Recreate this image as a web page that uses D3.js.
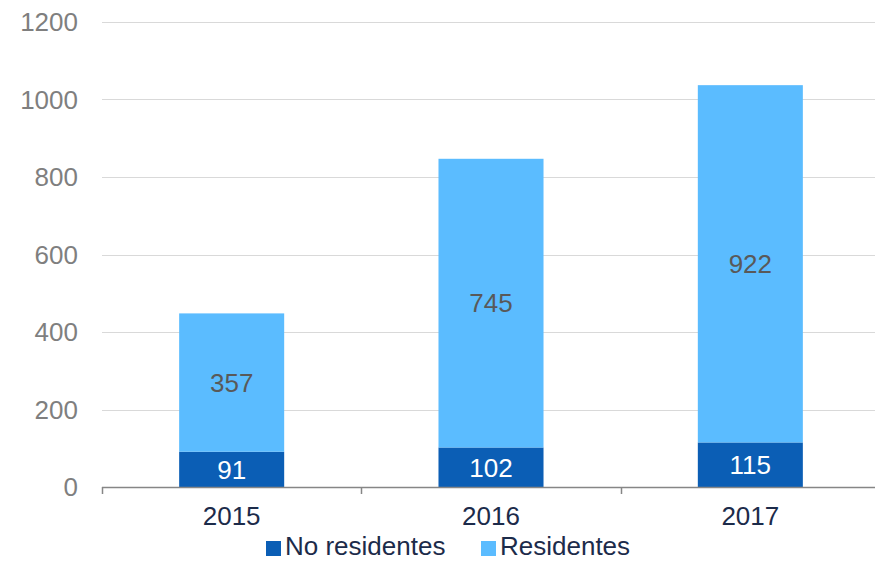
<!DOCTYPE html>
<html><head><meta charset="utf-8">
<script src="https://cdn.jsdelivr.net/npm/d3@7"></script>
<style>body{margin:0;background:#fff}svg{display:block}text{font-family:"Liberation Sans",Arial,sans-serif}</style>
</head><body><svg id="c" width="875" height="561"></svg>
<script>
const years = ["2015","2016","2017"];
const noResidentes = [91,102,115];
const residentes = [357,745,922];
const yTicks = [0,200,400,600,800,1000,1200];
const seriesNames = ["No residentes","Residentes"];
const colors = ["#0b5eb5","#5bbcff"];

(function(){
const svg = d3.select("#c");
const mLeft = 102, mRight = 880, mTop = 22, mBottom = 487;
const x = d3.scaleBand().domain(years).range([mLeft,mRight]).paddingInner(0.595).paddingOuter(0.2975);
const y = d3.scaleLinear().domain([0,1200]).range([mBottom,mTop]);

svg.append("g").selectAll("line").data(yTicks.filter(d=>d>0)).join("line")
  .attr("x1",mLeft).attr("x2",mRight).attr("y1",d=>Math.round(y(d))+0.5).attr("y2",d=>Math.round(y(d))+0.5)
  .attr("stroke","#d9d9d9").attr("stroke-width",1);

svg.append("g").selectAll("text").data(yTicks).join("text")
  .attr("x",78).attr("y",d=>y(d)).attr("dy","0.36em").attr("text-anchor","end")
  .attr("font-size",26).attr("fill","#7f7f7f").text(d=>d);

const data = years.map((yr,i)=>({yr, a:noResidentes[i], b:residentes[i]}));
const stack = d3.stack().keys(["a","b"])(data);

const bw = x.bandwidth();
svg.append("g").selectAll("g").data(stack).join("g").attr("fill",(d,i)=>colors[i])
  .selectAll("rect").data(d=>d).join("rect")
  .attr("x",d=>x(d.data.yr)).attr("width",bw)
  .attr("y",d=>y(d[1])).attr("height",d=>y(d[0])-y(d[1]));

stack.forEach((s,si)=>{
  svg.append("g").selectAll("text").data(s).join("text")
    .attr("x",d=>x(d.data.yr)+bw/2).attr("y",d=>y((d[0]+d[1])/2)).attr("dy","0.36em")
    .attr("text-anchor","middle").attr("font-size",26)
    .attr("fill",si===0?"#ffffff":"#595959")
    .text(d=>d[1]-d[0]);
});

const xa = svg.append("g");
xa.append("line").attr("x1",mLeft).attr("x2",mRight).attr("y1",mBottom+0.5).attr("y2",mBottom+0.5).attr("stroke","#868686").attr("stroke-width",1.5);
const step = x.step();
const tickXs = d3.range(years.length+1).map(i=>mLeft+i*step);
xa.selectAll("line.t").data(tickXs).join("line").attr("class","t")
  .attr("x1",d=>Math.round(d)+0.5).attr("x2",d=>Math.round(d)+0.5).attr("y1",mBottom).attr("y2",mBottom+7)
  .attr("stroke","#868686").attr("stroke-width",1.5);
xa.selectAll("text").data(years).join("text")
  .attr("x",d=>x(d)+bw/2).attr("y",525).attr("text-anchor","middle")
  .attr("font-size",26).attr("fill","#1c2b4a").text(d=>d);

const leg = svg.append("g");
const legItems = [{n:seriesNames[0],c:colors[0],x:266},{n:seriesNames[1],c:colors[1],x:481}];
legItems.forEach(it=>{
  leg.append("rect").attr("x",it.x).attr("y",541).attr("width",15).attr("height",15).attr("fill",it.c);
  leg.append("text").attr("x",it.x+19).attr("y",555).attr("font-size",26).attr("fill","#1c2b4a").text(it.n);
});
})();
</script></body></html>
